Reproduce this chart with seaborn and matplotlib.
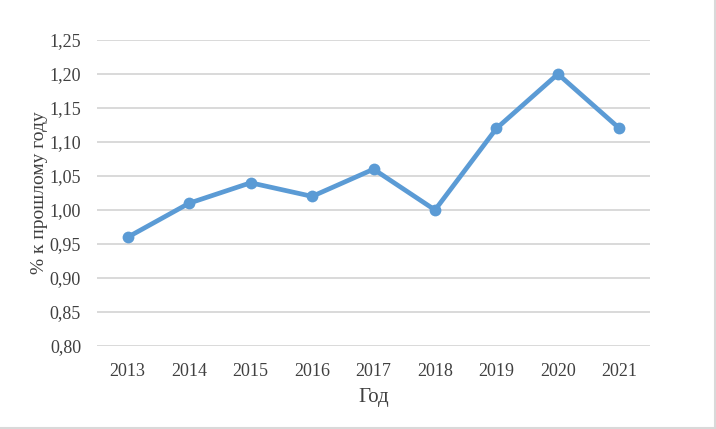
import matplotlib
matplotlib.use('Agg')
import matplotlib.pyplot as plt
import matplotlib.ticker as mticker
from matplotlib.lines import Line2D
import pandas as pd
import seaborn as sns

# data
years = ['2013', '2014', '2015', '2016', '2017', '2018', '2019', '2020', '2021']
values = [0.96, 1.01, 1.04, 1.02, 1.06, 1.00, 1.12, 1.20, 1.12]

sns.set_style('white')
plt.rcParams['font.family'] = ['Liberation Serif', 'DejaVu Serif']

df = pd.DataFrame({'year': years, 'value': values})

fig = plt.figure(figsize=(7.16, 4.29), dpi=100)
ax = fig.add_axes([0.1355, 0.1935, 0.7725, 0.7133])

sns.lineplot(data=df, x='year', y='value', ax=ax, color='#5B9BD5',
             linewidth=3.4, marker='o', markersize=8.5, markeredgewidth=0,
             sort=False, zorder=3)

ax.set_xlim(-0.5, len(years) - 0.5)
ax.set_ylim(0.80, 1.25)
ax.yaxis.set_major_locator(mticker.MultipleLocator(0.05))
ax.yaxis.set_major_formatter(mticker.FuncFormatter(lambda v, p: f'{v:.2f}'.replace('.', ',')))
ax.grid(axis='y', color='#D9D9D9', linewidth=1.4)
ax.grid(axis='x', visible=False)
for s in ax.spines.values():
    s.set_visible(False)
ax.tick_params(axis='both', length=0, labelsize=13, colors='#404040')
ax.tick_params(axis='y', pad=11.5)
ax.tick_params(axis='x', pad=12)

ax.set_xlabel('Год', fontsize=15, color='#404040', labelpad=6)
ax.set_ylabel('% к прошлому году', fontsize=14, color='#404040', labelpad=1)

# thin frame on the right and bottom edges of the picture
fig.add_artist(Line2D([0.998, 0.998], [0, 1], transform=fig.transFigure, color='#D9D9D9', linewidth=1.5))
fig.add_artist(Line2D([0, 1], [0.003, 0.003], transform=fig.transFigure, color='#D9D9D9', linewidth=1.5))

fig.savefig('out.png', dpi=100)
